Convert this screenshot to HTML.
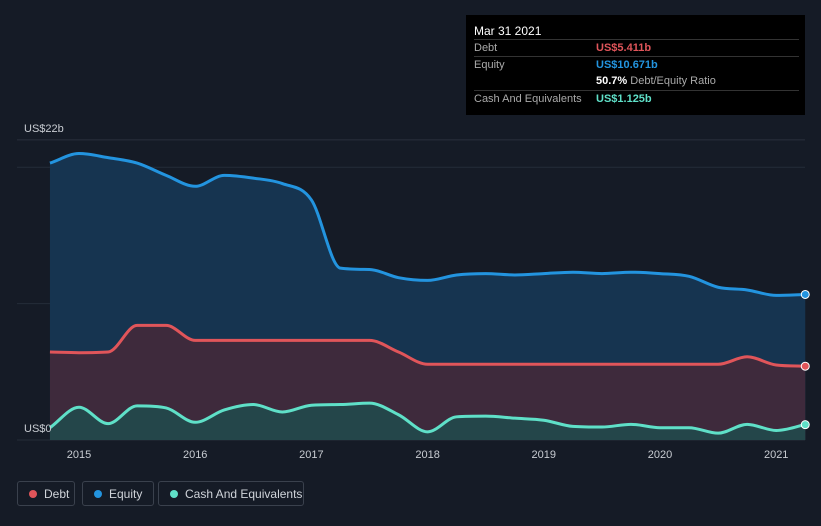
<!DOCTYPE html>
<html><head><meta charset="utf-8"><style>
body{margin:0;background:#151b26;font-family:"Liberation Sans",sans-serif;}
#wrap{position:relative;width:821px;height:526px;overflow:hidden;background:#151b26}
.tt{position:absolute;left:466px;top:15px;width:339px;height:100px;background:#000;color:#fff;font-size:11px}
.row{position:absolute;left:8px;width:325px;border-top:1px solid #333;height:17px;line-height:17px}
.lg{position:absolute;top:481px;height:25px;border:1px solid #3a414d;border-radius:3px;color:#d0d4da;font-size:12px;line-height:25px;padding:0 0 0 26px;box-sizing:border-box;white-space:nowrap}
.lg i{position:absolute;left:11px;top:8px;width:8px;height:8px;border-radius:50%}
</style></head><body>
<div id="wrap">
<svg id="svg" width="821" height="526" style="position:absolute;left:0;top:0"></svg>
<div class="tt">
<div style="position:absolute;left:8px;top:9px;font-size:12px">Mar 31 2021</div>
<div class="row" style="top:24px"><span style="color:#aaa">Debt</span><span style="position:absolute;left:122px;color:#e0555a;font-weight:bold">US$5.411b</span></div>
<div class="row" style="top:41px"><span style="color:#aaa">Equity</span><span style="position:absolute;left:122px;color:#2394df;font-weight:bold">US$10.671b</span></div>
<div class="row" style="top:58px;border-top:none"><span style="position:absolute;left:122px"><b>50.7%</b> <span style="color:#aaa">Debt/Equity Ratio</span></span></div>
<div class="row" style="top:75px"><span style="color:#aaa">Cash And Equivalents</span><span style="position:absolute;left:122px;color:#5fe0c8;font-weight:bold">US$1.125b</span></div>
</div>
<div class="lg" style="left:17px;width:58px"><i style="background:#e0555a"></i>Debt</div>
<div class="lg" style="left:82px;width:72px"><i style="background:#2394df"></i>Equity</div>
<div class="lg" style="left:158px;width:146px"><i style="background:#5fe0c8"></i>Cash And Equivalents</div>
</div>
<script>
const dates=[2014.75,2015,2015.25,2015.5,2015.75,2016,2016.25,2016.5,2016.75,2017,2017.25,2017.5,2017.75,2018,2018.25,2018.5,2018.75,2019,2019.25,2019.5,2019.75,2020,2020.25,2020.5,2020.75,2021,2021.25];
const equity=[20.3,21.0,20.7,20.3,19.4,18.6,19.4,19.2,18.8,17.6,12.6,12.5,11.9,11.7,12.1,12.2,12.1,12.2,12.3,12.2,12.3,12.2,12.0,11.2,11.0,10.6,10.671];
const debt=[6.45,6.4,6.45,8.4,8.4,7.3,7.3,7.3,7.3,7.3,7.3,7.3,6.45,5.55,5.55,5.55,5.55,5.55,5.55,5.55,5.55,5.55,5.55,5.55,6.1,5.5,5.411];
const cash=[0.9,2.4,1.2,2.5,2.35,1.3,2.2,2.6,2.05,2.55,2.6,2.7,1.85,0.6,1.7,1.75,1.6,1.45,1.0,0.95,1.15,0.9,0.9,0.5,1.15,0.7,1.125];
const xTicks=[2015,2016,2017,2018,2019,2020,2021];
const X=d=>79+(d-2015)*116.2, Y=v=>440-v*13.64;
const svg=document.getElementById('svg'),NS='http://www.w3.org/2000/svg';
function mk(t,a,name){const e=document.createElementNS(NS,t);for(const k in a)e.setAttribute(k,a[k]);


svg.appendChild(e);return e;}
[0,10,20,22].forEach(v=>mk('line',{x1:17,x2:805,y1:Y(v),y2:Y(v),stroke:v==22?'#2a313d':'#252c38','stroke-width':1},'gridline'));
function path(vals){const p=dates.map((d,i)=>[X(d),Y(vals[i])]);const n=p.length;
const dl=[],m=[];for(let i=0;i<n-1;i++)dl.push((p[i+1][1]-p[i][1])/(p[i+1][0]-p[i][0]));
m[0]=dl[0];m[n-1]=dl[n-2];
for(let i=1;i<n-1;i++){m[i]=(dl[i-1]*dl[i]<=0)?0:(dl[i-1]+dl[i])/2;}
for(let i=0;i<n-1;i++){if(dl[i]==0){m[i]=0;m[i+1]=0;continue;}const a=m[i]/dl[i],b=m[i+1]/dl[i],s=a*a+b*b;if(s>9){const t=3/Math.sqrt(s);m[i]=t*a*dl[i];m[i+1]=t*b*dl[i];}}
let s='M'+p[0];
for(let i=0;i<n-1;i++){const a=p[i],b=p[i+1],h=(b[0]-a[0])/3;s+=`C${a[0]+h},${a[1]+m[i]*h} ${b[0]-h},${b[1]-m[i+1]*h} ${b[0]},${b[1]}`;}return s;}
function series(vals,col,fill,name){const d=path(vals);
mk('path',{d:d+`L${X(dates[dates.length-1])},440L${X(dates[0])},440Z`,fill:fill},name+'-area');
mk('path',{d:d,fill:'none',stroke:col,'stroke-width':3},name+'-line');
mk('circle',{cx:X(dates[dates.length-1]),cy:Y(vals[vals.length-1]),r:4,fill:col,stroke:'#fff','stroke-width':1},name+'-end-dot');}
series(equity,'#2394df','#163450','equity');
series(debt,'#e0555a','#3e2a3c','debt');
series(cash,'#5fe0c8','#24464a','cash');
xTicks.forEach(t=>{const e=mk('text',{x:X(t),y:458,fill:'#c8ccd2','font-size':11,'text-anchor':'middle'},'x-tick-label');e.textContent=t;});
let e=mk('text',{x:24,y:132,fill:'#c8ccd2','font-size':11},'y-axis-max-label');e.textContent='US$22b';
e=mk('text',{x:24,y:432,fill:'#c8ccd2','font-size':11},'y-axis-zero-label');e.textContent='US$0';
</script>
</body></html>
